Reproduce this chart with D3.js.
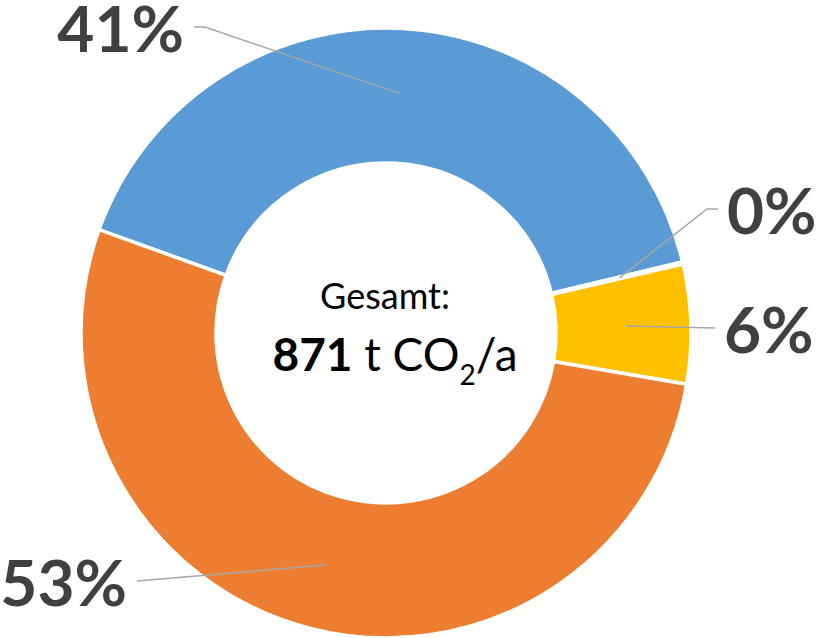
<!DOCTYPE html>
<html>
<head>
<meta charset="utf-8">
<script src="https://cdn.jsdelivr.net/npm/d3@7"></script>
<style>
  body { margin: 0; background: #fff; }
  svg { display: block; }
</style>
</head>
<body>
<div id="chart"></div>
<script>
// data (t CO2/a per share, total 871)
var categories = ["A", "B", "C", "D"];
var values = [355, 1, 55, 460];
var colors = ["#5B9BD5", "#A5A5A5", "#FFC000", "#ED7D31"];
var total = 871;

// elbow points of the leader lines and label side
var labelPos = [
  {x: 205, y: 27, end: 194, anchor: "end"},
  {x: 707, y: 209, end: 718, anchor: "start"},
  {x: 715, y: 328, end: 715, anchor: "start"},
  {x: 137, y: 581, end: 137, anchor: "end"}
];

var svgWidth = 819;
var svgHeight = 638;
var cx = 386, cy = 333;
var outerR = 305, innerR = 170;

var svg = d3.select("#chart")
  .append("svg")
  .attr("width", svgWidth)
  .attr("height", svgHeight);

var chartGroup = svg.append("g")
  .attr("transform", `translate(${cx}, ${cy})`);

var start = -70.2 * Math.PI / 180;
var pie = d3.pie()
  .sort(null)
  .startAngle(start)
  .endAngle(start + 2 * Math.PI);

var arcs = pie(values);

var arc = d3.arc()
  .innerRadius(innerR)
  .outerRadius(outerR);

chartGroup.selectAll("path.slice")
  .data(arcs)
  .enter()
  .append("path")
  .attr("class", "slice")
  .attr("d", arc)
  .attr("fill", (d, i) => colors[i])
  .attr("stroke", "#fff")
  .attr("stroke-width", 3.5);

// leader lines
var mid = d3.arc().innerRadius(240).outerRadius(240);
var line = d3.line();

svg.selectAll("path.leader")
  .data(arcs)
  .enter()
  .append("path")
  .attr("class", "leader")
  .attr("d", function(d, i) {
    var c = mid.centroid(d);
    var p = labelPos[i];
    return line([[c[0] + cx, c[1] + cy], [p.x, p.y], [p.end, p.y]]);
  })
  .attr("fill", "none")
  .attr("stroke", "#A6A6A6")
  .attr("stroke-width", 1.5);

// percentage labels
var fmt = d3.format(".0%");
svg.selectAll("text.pct")
  .data(arcs)
  .enter()
  .append("text")
  .attr("class", "pct")
  .attr("x", (d, i) => labelPos[i].anchor == "end" ? labelPos[i].end - 10 : labelPos[i].end + 9)
  .attr("y", (d, i) => labelPos[i].y + 25)
  .attr("text-anchor", (d, i) => labelPos[i].anchor)
  .attr("font-family", "Lato, 'Open Sans', sans-serif")
  .attr("font-weight", "bold")
  .attr("font-size", 64)
  .attr("fill", "#404040")
  .text(d => fmt(d.value / total));

// center text
var center = svg.append("g")
  .attr("font-family", "Lato, 'Open Sans', sans-serif")
  .attr("fill", "#000");

center.append("text")
  .attr("x", 385)
  .attr("y", 309)
  .attr("text-anchor", "middle")
  .attr("font-size", 36)
  .text("Gesamt:");

var t2 = center.append("text")
  .attr("x", 395)
  .attr("y", 371)
  .attr("text-anchor", "middle")
  .attr("font-size", 46);
t2.append("tspan").attr("font-weight", "bold").text(d3.sum(values));
t2.append("tspan").text(" t CO");
t2.append("tspan").attr("font-size", 28).attr("dy", 14).text("2");
t2.append("tspan").attr("dy", -14).text("/a");
</script>
</body>
</html>
